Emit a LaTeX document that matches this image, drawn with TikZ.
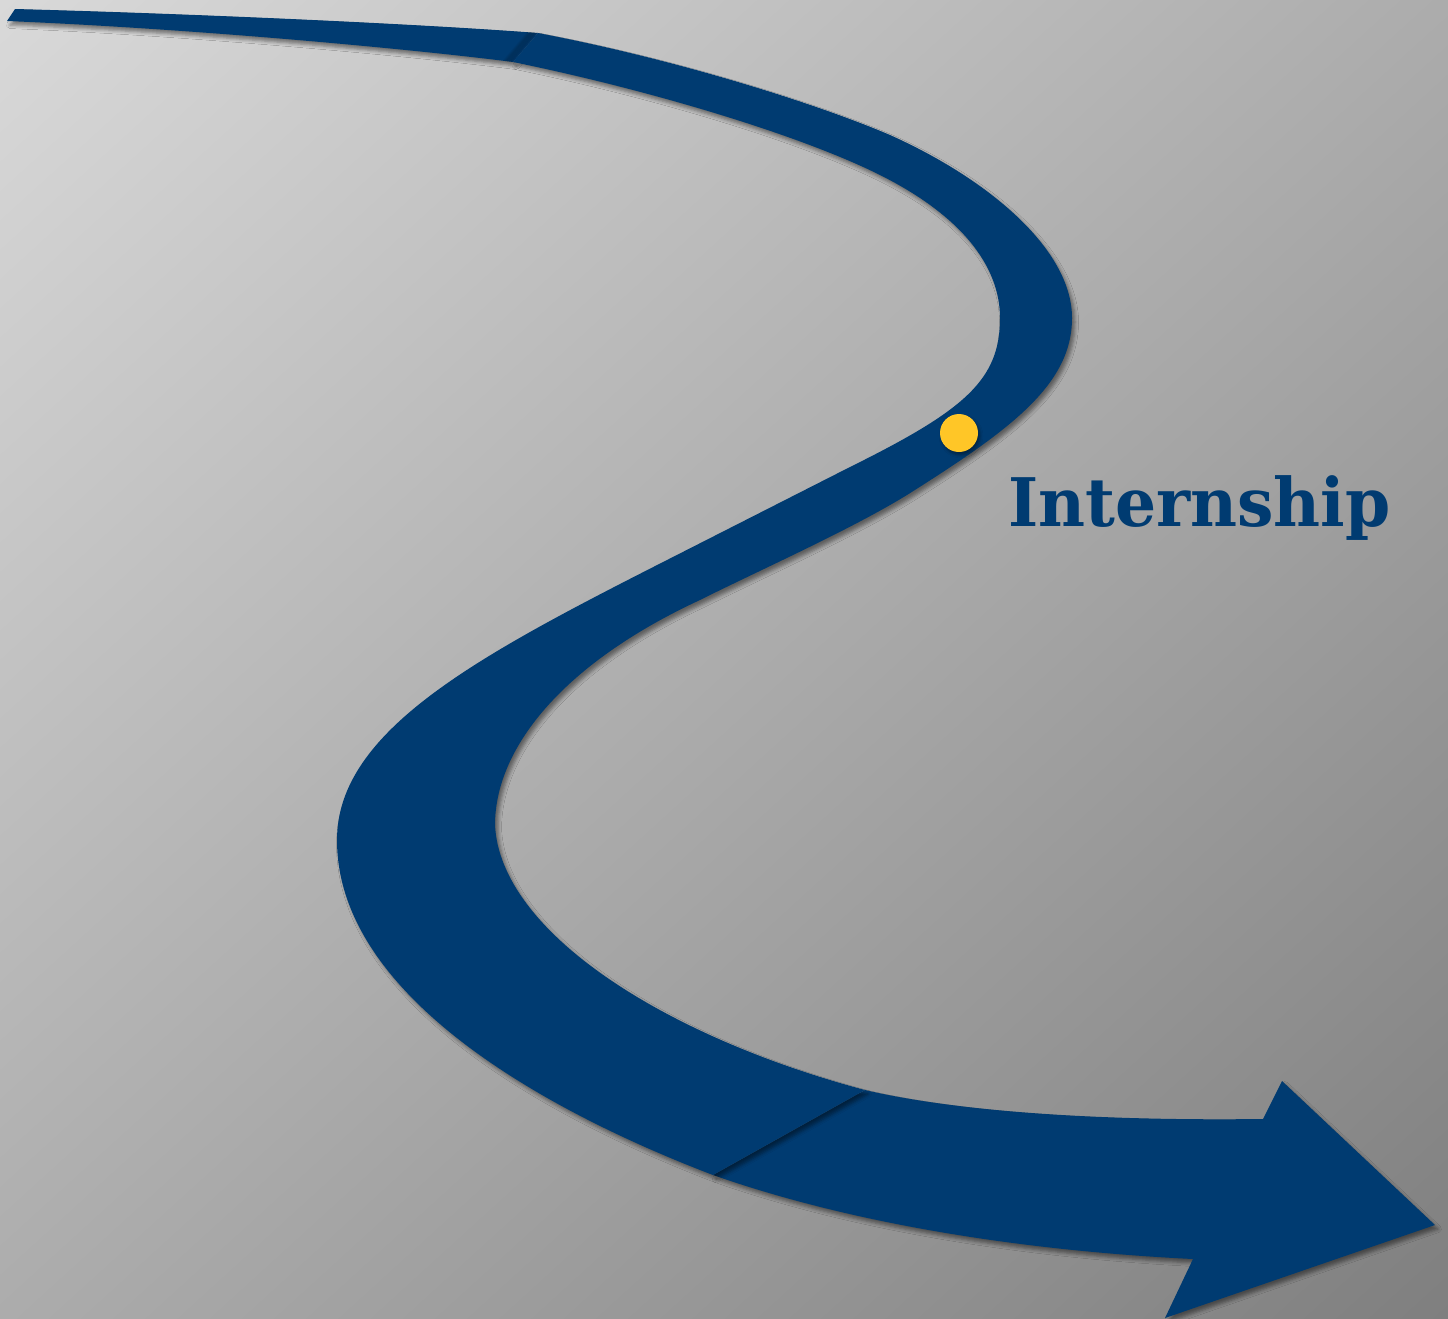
\documentclass[tikz,border=0pt]{standalone}
\usepackage{fontspec}
\newfontfamily\labelfont{DejaVu Serif}
\usetikzlibrary{shadows.blur,shadings}
\definecolor{bgA}{RGB}{217,217,217}
\definecolor{bgB}{RGB}{172,172,172}
\definecolor{bgC}{RGB}{127,127,127}
\definecolor{roadblue}{RGB}{0,59,113}
\definecolor{gold}{RGB}{255,198,39}
\tikzset{
  road/.style={fill=roadblue, blur shadow={shadow xshift=3pt, shadow yshift=-4pt, shadow blur radius=3.5pt, shadow opacity=45}}
}
\begin{document}
\begin{tikzpicture}[x=1pt,y=-1pt]
\shade[upper left=bgA, upper right=bgB, lower left=bgB, lower right=bgC] (0,0) rectangle (1448,1318);
\useasboundingbox (0,0) rectangle (1448,1318);
% piece 3 (arrow)
\fill[road] (865,1090) .. controls (960,1112) and (1100,1121) .. (1263,1119)
  -- (1282,1081) -- (1435,1225) -- (1165,1318) -- (1193,1259)
  .. controls (1050,1252) and (870,1230) .. (713,1175) -- cycle;
% piece 1
\fill[road] (15,9) .. controls (200,14) and (420,24) .. (538,33)
  -- (513,62) .. controls (420,50) and (200,29) .. (7,21) -- cycle;
\begin{scope}
  \clip (15,9) .. controls (200,14) and (420,24) .. (538,33)
  -- (513,62) .. controls (420,50) and (200,29) .. (7,21) -- cycle;
  \foreach \i in {1,...,8}
    \draw[black, opacity=0.05, line width=3pt, xshift=-\i*1.2] (542,28) -- (509,67);
\end{scope}
% piece 2
\fill[road] (538,33) .. controls (680,60) and (820,105) .. (890,135)
  .. controls (990,180) and (1072,250) .. (1072,318)
  .. controls (1072,385) and (1010,430) .. (907,495)
  .. controls (850,530) and (760,570) .. (700,600)
  .. controls (560,665) and (495,750) .. (495,825)
  .. controls (500,930) and (660,1035) .. (865,1090)
  -- (713,1175)
  .. controls (530,1105) and (337,990) .. (337,840)
  .. controls (337,730) and (480,655) .. (667,560)
  -- (850,467)
  .. controls (965,410) and (1000,380) .. (1000,318)
  .. controls (1000,265) and (960,215) .. (880,175)
  .. controls (800,135) and (650,90) .. (513,62) -- cycle;
% marker
\node[circle, fill=gold, minimum size=38pt, inner sep=0pt, blur shadow={shadow xshift=2pt, shadow yshift=-3pt, shadow blur radius=3pt, shadow opacity=40}] (dot) at (959,433) {};
\node[font=\labelfont\bfseries\fontsize{67}{80}\selectfont, text=roadblue, anchor=base west, inner sep=0pt] (label) at (1008,526) {\scalebox{0.965}[1]{Internship}};
\end{tikzpicture}
\end{document}
